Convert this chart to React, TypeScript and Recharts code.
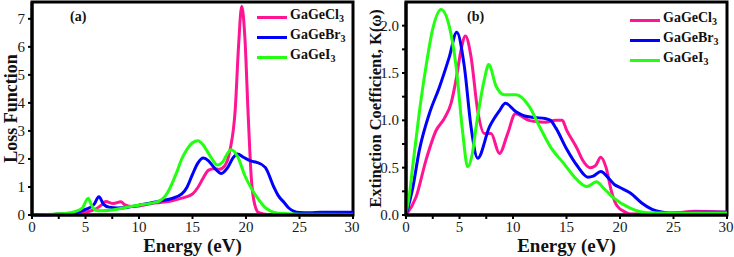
import React from "react";
import { LineChart, Line, XAxis, YAxis, ReferenceArea } from "recharts";

// ---- (a) loss function ----
const lossClE = [0, 2, 4, 5, 6, 6.5, 6.9, 7.6, 8.3, 8.7, 9.4, 10, 11, 12, 13, 14, 15, 15.5, 16, 16.5, 17, 17.5, 18, 18.5, 19, 19.3, 19.6, 19.9, 20.2, 20.5, 20.8, 21.2, 22, 25, 27, 28.5, 30];
const lossCl = [0, 0.02, 0.06, 0.1, 0.22, 0.36, 0.48, 0.41, 0.47, 0.36, 0.3, 0.32, 0.4, 0.45, 0.5, 0.6, 0.75, 0.98, 1.32, 1.6, 1.65, 1.63, 1.75, 2.3, 3.8, 6.0, 7.45, 6.3, 3.6, 1.3, 0.4, 0.08, 0.02, 0.02, 0.08, 0.05, 0.05];

const lossBrE = [0, 2, 4, 5, 5.8, 6.25, 6.7, 7.2, 8, 9, 10, 11, 12, 13, 14, 14.5, 15, 15.5, 16, 16.5, 17, 17.7, 18.3, 18.8, 19.2, 19.8, 20.5, 21, 21.8, 22.6, 23, 23.6, 24, 24.5, 25, 26, 27, 28, 30];
const lossBr = [0, 0.02, 0.08, 0.2, 0.38, 0.65, 0.38, 0.28, 0.25, 0.28, 0.35, 0.42, 0.5, 0.58, 0.75, 1.0, 1.45, 1.85, 2.03, 1.93, 1.7, 1.48, 1.7, 2.05, 2.18, 2.05, 1.92, 1.88, 1.7, 1.0, 0.7, 0.43, 0.25, 0.13, 0.09, 0.08, 0.1, 0.1, 0.1];

const lossIE = [0, 2, 3, 4, 4.7, 5.25, 5.55, 5.9, 6.5, 7.5, 8.5, 9.5, 10.5, 11.5, 12, 12.5, 12.8, 13.5, 14, 14.5, 15, 15.5, 16, 16.5, 17, 17.3, 17.8, 18.2, 18.6, 19.2, 19.9, 20.5, 21.2, 21.7, 22.2, 23, 25, 30];
const lossI = [0, 0.03, 0.05, 0.12, 0.25, 0.6, 0.36, 0.18, 0.15, 0.18, 0.25, 0.32, 0.38, 0.45, 0.52, 0.7, 0.89, 1.5, 2.0, 2.35, 2.58, 2.65, 2.5, 2.2, 1.9, 1.78, 1.88, 2.15, 2.33, 2.1, 1.4, 0.95, 0.54, 0.3, 0.16, 0.06, 0.03, 0.02];

// ---- (b) extinction coefficient ----
const extClE = [0, 0.94, 1.87, 2.8, 3.58, 4.21, 4.68, 5.14, 5.55, 6.08, 6.7, 7.32, 7.95, 8.73, 9.5, 10.22, 11.5, 12, 13, 14, 14.6, 15, 16, 16.5, 17.2, 17.7, 18.2, 18.7, 19.2, 19.7, 20.5, 21, 25, 27, 30];
const extCl = [0, 0.19, 0.58, 0.89, 1.02, 1.18, 1.43, 1.74, 1.89, 1.67, 1.1, 0.86, 0.86, 0.65, 0.86, 1.07, 1.0, 0.99, 0.98, 1.0, 1.0, 0.9, 0.7, 0.58, 0.5, 0.52, 0.61, 0.5, 0.25, 0.1, 0.03, 0.01, 0.02, 0.04, 0.03];

const extBrE = [0, 0.62, 1.24, 2.18, 3.12, 4.05, 4.74, 5.45, 6.08, 6.7, 7.8, 8.73, 9.29, 10.29, 11, 12, 13, 13.5, 14, 15, 16, 17, 17.5, 18.2, 19, 19.5, 20, 21, 22, 23, 24, 25, 27, 30];
const extBr = [0, 0.28, 0.68, 1.07, 1.35, 1.67, 1.93, 1.57, 0.93, 0.6, 0.93, 1.1, 1.18, 1.09, 1.05, 1.03, 1.02, 1.0, 0.92, 0.7, 0.52, 0.4, 0.41, 0.46, 0.38, 0.32, 0.29, 0.23, 0.13, 0.06, 0.03, 0.02, 0.03, 0.03];

const extIE = [0, 0.3, 0.62, 1.24, 1.87, 2.49, 3.27, 4.05, 4.68, 5.3, 5.76, 6.2, 6.55, 7.32, 7.73, 8.42, 9.2, 10.3, 11.5, 12.5, 13.5, 14.7, 16, 16.9, 17.8, 18.5, 19.4, 21, 22.5, 25, 30];
const extI = [0.02, 0.2, 0.51, 1.08, 1.57, 1.96, 2.17, 1.99, 1.57, 0.87, 0.51, 0.65, 0.93, 1.43, 1.59, 1.36, 1.27, 1.27, 1.15, 0.93, 0.72, 0.55, 0.37, 0.3, 0.35, 0.28, 0.18, 0.07, 0.025, 0.02, 0.02];

const compounds = ["Cl", "Br", "I"];
const colors = ["#ff1493", "#0000ff", "#22ff11"];
const xTicks = [0, 2.5, 5, 7.5, 10, 12.5, 15, 17.5, 20, 22.5, 25, 27.5, 30];
const lossTicks = [0, 1, 2, 3, 4, 5, 6, 7];
const extTicks = [0, 0.25, 0.5, 0.75, 1, 1.25, 1.5, 1.75, 2];

const pts = (e: number[], v: number[]) => e.map((x, i) => ({ e: x, v: v[i] }));

const FONT = "'Liberation Serif', 'Times New Roman', serif";

function XTick(props: any) {
  const { x, y, payload } = props;
  const v = payload.value as number;
  if (v % 5 !== 0) return <g />;
  return (
    <text x={x} y={y + 11} textAnchor="middle" fontSize={15} fill="#1a1a1a" style={{ fontFamily: FONT }}>
      {String(v)}
    </text>
  );
}

function makeYTick(fmt: (v: number) => string) {
  return function YTick(props: any) {
    const { x, y, payload } = props;
    const s = fmt(payload.value as number);
    if (!s) return <g />;
    return (
      <text x={x - 1} y={y + 5} textAnchor="end" fontSize={15} fill="#1a1a1a" style={{ fontFamily: FONT }}>
        {s}
      </text>
    );
  };
}

function LegendBox({ x, y }: { x: number; y: number }) {
  return (
    <div
      style={{
        position: "absolute",
        left: x,
        top: y,
        fontFamily: FONT,
        fontWeight: 700,
        fontSize: 14,
        color: "#111",
        lineHeight: "20px",
      }}
    >
      {compounds.map((c, i) => (
        <div key={c} style={{ display: "flex", alignItems: "center", height: 20 }}>
          <div style={{ width: 30, height: 3, background: colors[i], marginRight: 3 }} />
          <span>
            GaGe{c}
            <sub style={{ fontSize: 10, verticalAlign: "-3px" }}>3</sub>
          </span>
        </div>
      ))}
    </div>
  );
}

function Panel({
  left,
  width,
  yWidth,
  yMax,
  yTicks,
  yFmt,
  yLabel,
  yLabelSize,
  yLabelDx,
  tag,
  tagX,
  legendX,
  legendY,
  series,
}: {
  left: number;
  width: number;
  yWidth: number;
  yMax: number;
  yTicks: number[];
  yFmt: (v: number) => string;
  yLabel: string;
  yLabelSize: number;
  yLabelDx: number;
  tag: string;
  tagX: number;
  legendX: number;
  legendY: number;
  series: { e: number[]; v: number[] }[];
}) {
  return (
    <div style={{ position: "absolute", left, top: 0, width, height: 257, fontFamily: FONT }}>
      <LineChart width={width} height={257} margin={{ top: 2, right: 7, bottom: 0, left: 0 }}>
        <XAxis
          dataKey="e"
          type="number"
          domain={[0, 30]}
          ticks={xTicks}
          allowDuplicatedCategory={false}
          tick={<XTick />}
          tickSize={4}
          height={42}
          axisLine={{ stroke: "#000", strokeWidth: 3 }}
          tickLine={{ stroke: "#000", strokeWidth: 2 }}
          label={{
            value: "Energy (eV)",
            position: "insideBottom",
            offset: 5,
            style: { fontFamily: FONT, fontWeight: 700, fontSize: 19, fill: "#111" },
          }}
        />
        <YAxis
          dataKey="v"
          type="number"
          domain={[0, yMax]}
          ticks={yTicks}
          tick={makeYTick(yFmt)}
          tickSize={4}
          width={yWidth}
          axisLine={{ stroke: "#000", strokeWidth: 3 }}
          tickLine={{ stroke: "#000", strokeWidth: 2 }}
          label={{
            value: yLabel,
            angle: -90,
            position: "center",
            dx: yLabelDx,
            style: { fontFamily: FONT, fontWeight: 700, fontSize: yLabelSize, fill: "#111", textAnchor: "middle" },
          }}
        />
        <ReferenceArea x1={0} x2={30} y1={0} y2={yMax} fill="none" stroke="#000" strokeWidth={3} />
        {series.map((s, i) => (
          <Line
            key={compounds[i]}
            data={pts(s.e, s.v)}
            dataKey="v"
            name={"GaGe" + compounds[i] + "3"}
            type="monotone"
            stroke={colors[i]}
            strokeWidth={3}
            dot={false}
            activeDot={false}
            isAnimationActive={false}
          />
        ))}
      </LineChart>
      <LegendBox x={legendX} y={legendY} />
      <div
        style={{
          position: "absolute",
          left: tagX,
          top: 9,
          fontFamily: FONT,
          fontWeight: 700,
          fontSize: 14,
          color: "#111",
        }}
      >
        {tag}
      </div>
    </div>
  );
}

export default function App() {
  return (
    <div style={{ position: "absolute", left: 0, top: 0, width: 734, height: 257, background: "#fff" }}>
      <Panel
        left={0}
        width={360}
        yWidth={32}
        yMax={7.6}
        yTicks={lossTicks}
        yFmt={(v) => String(v)}
        yLabel="Loss Function"
        yLabelSize={18}
        yLabelDx={-5}
        tag="(a)"
        tagX={70}
        legendX={257}
        legendY={7}
        series={[
          { e: lossClE, v: lossCl },
          { e: lossBrE, v: lossBr },
          { e: lossIE, v: lossI },
        ]}
      />
      <Panel
        left={364}
        width={370}
        yWidth={42}
        yMax={2.25}
        yTicks={extTicks}
        yFmt={(v) => (Math.round(v * 100) % 50 === 0 ? v.toFixed(1) : "")}
        yLabel="Extinction Coefficient, K(ω)"
        yLabelSize={16.5}
        yLabelDx={-10}
        tag="(b)"
        tagX={103}
        legendX={266}
        legendY={10}
        series={[
          { e: extClE, v: extCl },
          { e: extBrE, v: extBr },
          { e: extIE, v: extI },
        ]}
      />
    </div>
  );
}
